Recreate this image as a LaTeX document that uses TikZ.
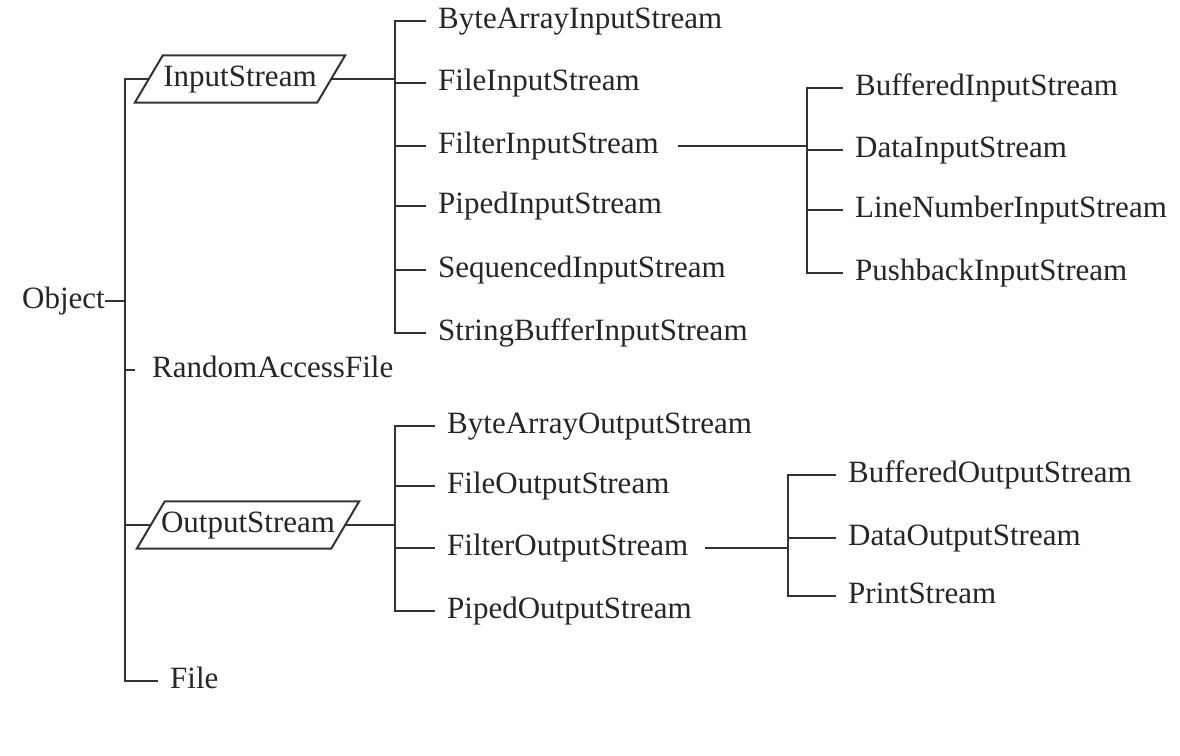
\documentclass[tikz,border=0pt]{standalone}
\usepackage{fontspec}
\setmainfont{Liberation Serif}
\usetikzlibrary{calc}
\begin{document}
\begin{tikzpicture}[x=1pt,y=-1pt,
  every node/.style={font=\fontsize{31}{36}\selectfont, text=black!85},
  leaf/.style={anchor=base west, inner ysep=0pt, inner xsep=12pt, text height=21pt, text depth=6pt},
  conn/.style={line width=2pt, draw=black!80},
  pgram/.style={inner sep=0pt, text height=21pt, text depth=6pt, minimum height=47pt},
]
\useasboundingbox[fill=white] (0,0) rectangle (1180,755);
\coordinate (tt) at (125,0);
\coordinate (ib) at (395,0);
\coordinate (fib) at (807,0);
\coordinate (ob) at (395,0);
\coordinate (fob) at (788,0);

% root
\node[anchor=base east, inner sep=0pt, text height=21pt, text depth=6pt] (obj) at (105,308) {Object};

% InputStream
\node[pgram, minimum width=182pt] (ins) at (240,79) {InputStream};
\draw[conn] ($(ins.south west)+(-14,0)$) -- ($(ins.north west)+(14,0)$) -- ($(ins.north east)+(14,0)$) -- ($(ins.south east)+(-14,0)$) -- cycle;

% OutputStream
\node[pgram, minimum width=194pt] (outs) at (248,525) {OutputStream};
\draw[conn] ($(outs.south west)+(-14,0)$) -- ($(outs.north west)+(14,0)$) -- ($(outs.north east)+(14,0)$) -- ($(outs.south east)+(-14,0)$) -- cycle;

\node[leaf] (raf) at (140,377) {RandomAccessFile};
\node[leaf] (file) at (158,688) {File};

% Input children
\node[leaf] (bais) at (426,28) {ByteArrayInputStream};
\node[leaf] (fis) at (426,90) {FileInputStream};
\node[leaf] (flis) at (426,153) {FilterInputStream};
\node[leaf] (pis) at (426,213) {PipedInputStream};
\node[leaf] (sqis) at (426,277) {SequencedInputStream};
\node[leaf] (sbis) at (426,340) {StringBufferInputStream};

% Filter input children
\node[leaf] (bis) at (843,95) {BufferedInputStream};
\node[leaf] (dis) at (843,157) {DataInputStream};
\node[leaf] (lnis) at (843,217) {LineNumberInputStream};
\node[leaf] (pbis) at (843,280) {PushbackInputStream};

% Output children
\node[leaf] (baos) at (435,433) {ByteArrayOutputStream};
\node[leaf] (fos) at (435,493) {FileOutputStream};
\node[leaf] (flos) at (435,555) {FilterOutputStream};
\node[leaf] (pos) at (435,618) {PipedOutputStream};

% Filter output children
\node[leaf] (bos) at (836,482) {BufferedOutputStream};
\node[leaf] (dos) at (836,545) {DataOutputStream};
\node[leaf] (ps) at (836,603) {PrintStream};

% trunk
\draw[conn] (ins.west) -- (ins.west -| tt) -- (file.west -| tt) -- (file.west);
\draw[conn] (obj.east) -- (obj.east -| tt);
\draw[conn] (outs.west) -- (outs.west -| tt);
\draw[conn, shorten <=5pt] (raf.west) -- (raf.west -| tt);

% input tree
\draw[conn] (ins.east) -- (ins.east -| ib);
\draw[conn] (bais.west) -- (bais.west -| ib) -- (sbis.west -| ib) -- (sbis.west);
\foreach \n in {fis,flis,pis,sqis} \draw[conn] (\n.west) -- (\n.west -| ib);
\draw[conn, shorten <=7pt] (flis.east) -- (flis.east -| fib);
\draw[conn] (bis.west) -- (bis.west -| fib) -- (pbis.west -| fib) -- (pbis.west);
\foreach \n in {dis,lnis} \draw[conn] (\n.west) -- (\n.west -| fib);

% output tree
\draw[conn] (outs.east) -- (outs.east -| ob);
\draw[conn] (baos.west) -- (baos.west -| ob) -- (pos.west -| ob) -- (pos.west);
\foreach \n in {fos,flos} \draw[conn] (\n.west) -- (\n.west -| ob);
\draw[conn, shorten <=5pt] (flos.east) -- (flos.east -| fob);
\draw[conn] (bos.west) -- (bos.west -| fob) -- (ps.west -| fob) -- (ps.west);
\draw[conn] (dos.west) -- (dos.west -| fob);
\end{tikzpicture}
\end{document}
